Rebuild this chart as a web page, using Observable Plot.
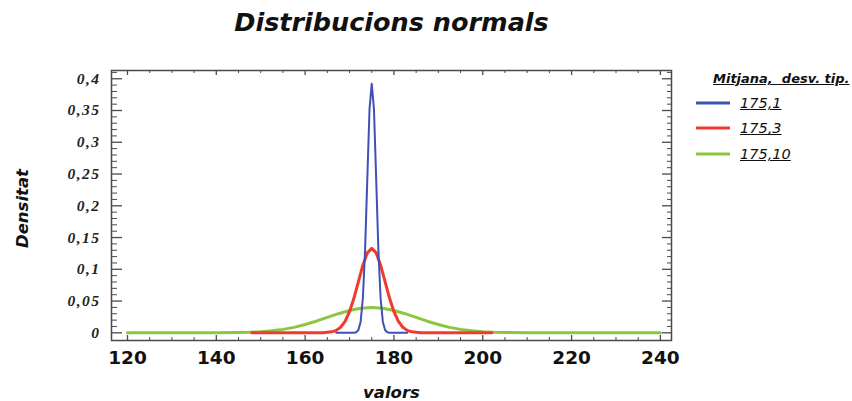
<!DOCTYPE html>
<html>
<head>
<meta charset="utf-8">
<script src="https://cdn.jsdelivr.net/npm/d3@7"></script>
<script src="https://cdn.jsdelivr.net/npm/@observablehq/plot@0.6"></script>
<style>
  html, body { margin: 0; padding: 0; background: #fff; }
  #wrap { position: relative; width: 852px; height: 401px; }
  #legend { position: absolute; left: 696px; top: 71px; font-family: "DejaVu Sans", sans-serif; color: #111; }
  #legend .ttl { font: italic bold 13px "DejaVu Sans", sans-serif; text-decoration: underline; margin-left: 17px; white-space: pre; height: 19px; }
  #legend .row { display: flex; align-items: center; height: 25.5px; }
  #legend .row svg { width: 34px; height: 6px; margin-right: 10px; }
  #legend .row span { font: italic 14.5px "DejaVu Sans", sans-serif; text-decoration: underline; }
  g[aria-description="ytl"] text { letter-spacing: 1.5px; }
</style>
</head>
<body>
<div id="wrap"></div>
<script>
// Normal density curves: mean 175 with standard deviations 1, 3 and 10
const seriesNames = ["175,1", "175,3", "175,10"];
const seriesColors = ["#3f51b5", "#f03a2e", "#8cc63f"];
const seriesWidths = [2, 3, 3];

const x175_1 = [167, 170, 171, 171.5, 172, 172.5, 173, 173.5, 174, 174.5, 175, 175.5, 176, 176.5, 177, 177.5, 178, 178.5, 179, 180, 183];
const y175_1 = [0, 0, 0.0001, 0.0009, 0.0044, 0.0175, 0.054, 0.1295, 0.242, 0.3521, 0.392, 0.3521, 0.242, 0.1295, 0.054, 0.0175, 0.0044, 0.0009, 0.0001, 0, 0];

const x175_3 = [148, 162, 164, 166, 167, 168, 169, 170, 171, 172, 173, 174, 175, 176, 177, 178, 179, 180, 181, 182, 183, 184, 186, 188, 202];
const y175_3 = [0, 0, 0.0002, 0.0015, 0.0038, 0.0088, 0.018, 0.0332, 0.0547, 0.0807, 0.1065, 0.1258, 0.133, 0.1258, 0.1065, 0.0807, 0.0547, 0.0332, 0.018, 0.0088, 0.0038, 0.0015, 0.0002, 0, 0];

const x175_10 = [120, 140, 145, 147.5, 150, 152.5, 155, 157.5, 160, 162.5, 165, 167.5, 170, 172.5, 175, 177.5, 180, 182.5, 185, 187.5, 190, 192.5, 195, 197.5, 200, 202.5, 205, 210, 240];
const y175_10 = [0, 0.0001, 0.0004, 0.0009, 0.0018, 0.0032, 0.0054, 0.0086, 0.013, 0.0183, 0.0242, 0.0301, 0.0352, 0.0387, 0.0399, 0.0387, 0.0352, 0.0301, 0.0242, 0.0183, 0.013, 0.0086, 0.0054, 0.0032, 0.0018, 0.0009, 0.0004, 0.0001, 0];

const xTicks = [120, 140, 160, 180, 200, 220, 240];
const xTickLabels = ["120", "140", "160", "180", "200", "220", "240"];
const yTicks = [0, 0.05, 0.1, 0.15, 0.2, 0.25, 0.3, 0.35, 0.4];
const yTickLabels = ["0", "0,05", "0,1", "0,15", "0,2", "0,25", "0,3", "0,35", "0,4"];

const title = "Distribucions normals";
const xLabel = "valors";
const yLabel = "Densitat";
const legendTitle = "Mitjana,  desv. tip.";

// Long-format table for the line marks
const pairs = [[x175_1, y175_1], [x175_3, y175_3], [x175_10, y175_10]];
const rows = pairs.flatMap(([xs, ys], s) => xs.map((x, i) => ({series: seriesNames[s], x, y: ys[i]})));

// Minor tick positions
const xMinor = d3.range(24, 49).map(i => i * 5).filter(v => v % 20 !== 0);
const yMinor = d3.range(0, 42).filter(i => i % 5 !== 0).map(i => i / 100);

const W = 852, H = 401, mL = 111, mR = 181, mT = 70, mB = 61;
const innerW = W - mL - mR, innerH = H - mT - mB;
const axisColor = "#4a4a4a";
const sans = "DejaVu Sans, sans-serif";

const drawOrder = [2, 1, 0];

const chart = Plot.plot({
  width: W, height: H,
  marginLeft: mL, marginRight: mR, marginTop: mT, marginBottom: mB,
  x: {domain: [116.4, 242.5], axis: null},
  y: {domain: [-0.0121, 0.413], axis: null},
  style: {background: "#fff", overflow: "visible"},
  marks: [
    // inward ticks on all four sides
    Plot.tickY(yTicks, {y: d => d, insetRight: innerW - 11, stroke: axisColor, strokeWidth: 1.3}),
    Plot.tickY(yMinor, {y: d => d, insetRight: innerW - 6, stroke: axisColor, strokeWidth: 1}),
    Plot.tickY(yTicks, {y: d => d, insetLeft: innerW - 9, stroke: axisColor, strokeWidth: 1.3}),
    Plot.tickY(yMinor, {y: d => d, insetLeft: innerW - 4, stroke: axisColor, strokeWidth: 1}),
    Plot.tickX(xTicks, {x: d => d, insetTop: innerH - 5, stroke: axisColor, strokeWidth: 1.3}),
    Plot.tickX(xMinor, {x: d => d, insetTop: innerH - 3, stroke: axisColor, strokeWidth: 1}),
    Plot.tickX(xTicks, {x: d => d, insetBottom: innerH - 5, stroke: axisColor, strokeWidth: 1.3}),
    Plot.tickX(xMinor, {x: d => d, insetBottom: innerH - 3, stroke: axisColor, strokeWidth: 1}),
    // density curves
    ...drawOrder.map(s => Plot.line(rows.filter(r => r.series === seriesNames[s]), {
      x: "x", y: "y", stroke: seriesColors[s], strokeWidth: seriesWidths[s], curve: "linear"
    })),
    Plot.frame({stroke: axisColor, strokeWidth: 1.5}),
    // tick labels
    Plot.text(yTicks, {
      y: d => d, frameAnchor: "left", text: (d, i) => yTickLabels[i], textAnchor: "end", dx: -11,
      fontFamily: "Liberation Serif, serif", fontStyle: "italic", fontWeight: "bold", fontSize: 15.5,
      fill: "#222", ariaDescription: "ytl"
    }),
    Plot.text(xTicks, {
      x: d => d, frameAnchor: "bottom", text: (d, i) => xTickLabels[i], dy: 18, lineAnchor: "middle",
      fontFamily: sans, fontWeight: "bold", fontSize: 18.5, fill: "#111"
    }),
    // titles
    Plot.text([title], {
      frameAnchor: "top", dy: -48, lineAnchor: "middle", textAnchor: "middle",
      fontFamily: sans, fontStyle: "italic", fontWeight: "bold",
      fontSize: 25.5, fill: "#111"
    }),
    Plot.text([xLabel], {
      frameAnchor: "bottom", dy: 52, lineAnchor: "middle", textAnchor: "middle",
      fontFamily: sans, fontStyle: "italic", fontWeight: "bold",
      fontSize: 16.5, fill: "#111"
    }),
    Plot.text([yLabel], {
      frameAnchor: "left", dx: -89, dy: 3, rotate: -90, textAnchor: "middle", lineAnchor: "middle",
      fontFamily: sans, fontStyle: "italic", fontWeight: "bold",
      fontSize: 16.5, fill: "#111"
    })
  ]
});

const wrap = document.getElementById("wrap");
wrap.appendChild(chart);

// Legend
const legend = document.createElement("div");
legend.id = "legend";
const ttl = document.createElement("div");
ttl.className = "ttl";
ttl.textContent = legendTitle;
legend.appendChild(ttl);
seriesNames.forEach((name, i) => {
  const row = document.createElement("div");
  row.className = "row";
  row.innerHTML = `<svg viewBox="0 0 34 6"><line x1="0" x2="34" y1="3" y2="3" stroke="${seriesColors[i]}" stroke-width="3"/></svg><span>${name}</span>`;
  legend.appendChild(row);
});
wrap.appendChild(legend);
</script>
</body>
</html>
